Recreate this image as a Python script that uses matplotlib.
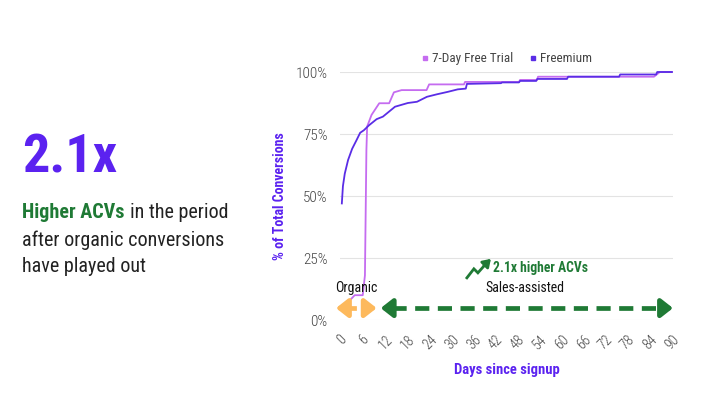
import matplotlib
matplotlib.use("Agg")
import matplotlib.pyplot as plt
from matplotlib import font_manager as fm
from matplotlib.lines import Line2D
import matplotlib.transforms as mtransforms

# ---------------- data ----------------
trial_days = [1.6, 3.5, 5.7, 6.3, 6.7, 6.9, 8.1, 10.2, 12.9, 14.2, 16.3, 23.1, 23.8,
              33.3, 33.6, 48.3, 48.6, 53.2, 53.5, 85.1, 86.7, 90]
trial_pct = [7, 10, 10, 18, 68.5, 78, 82.7, 87.4, 87.4, 91.8, 92.7, 92.7, 95,
             95, 96, 96, 96.8, 96.8, 98.1, 98.1, 100, 100]

freemium_days = [0, 0.3, 0.8, 1.7, 2.8, 4.0, 5.0, 6.0, 7.4, 9.5, 11.2, 14.5, 18, 20.5,
                 23.2, 25.9, 28.9, 31.6, 33.8, 34.1, 43.4, 43.7, 48.3, 48.6, 53.0,
                 53.3, 61.4, 61.7, 75.6, 75.9, 85.7, 86.0, 90]
freemium_pct = [47, 54, 59, 64.5, 69, 72.5, 75.5, 76.5, 78.5, 81, 82, 86, 87.5, 88,
                90, 91, 92, 93, 93.3, 95.2, 95.5, 95.8, 95.8, 96.4, 96.4,
                97.2, 97.2, 98.1, 98.1, 99, 99, 100, 100]

x_ticks = list(range(0, 91, 6))
y_ticks = [0, 25, 50, 75, 100]
y_tick_labels = ["0%", "25%", "50%", "75%", "100%"]

organic_span = [-1.6, 9.5]
sales_span = [10.6, 90.3]
arrow_level = 4.8

# ---------------- fonts ----------------
names = {f.name for f in fm.fontManager.ttflist}
FONT = "DejaVu Sans"
for cand in ["Roboto Condensed", "Open Sans Condensed", "Liberation Sans Narrow"]:
    if cand in names:
        FONT = cand
        break
plt.rcParams["font.family"] = [FONT, "DejaVu Sans"]

PURPLE = "#5b22f0"
TRIAL = "#c56cf0"
FREEM = "#5a2de6"
GREEN = "#1f7a35"
ORANGE = "#fdb95c"
GRAY = "#444444"

fig = plt.figure(figsize=(7.2, 4.0), dpi=100)
ax = fig.add_axes([340 / 720, 1 - 320 / 400, 333 / 720, 248 / 400])

ax.plot(trial_days, trial_pct, color=TRIAL, lw=1.3, label="7-Day Free Trial", clip_on=False)
ax.plot(freemium_days, freemium_pct, color=FREEM, lw=1.3, label="Freemium", clip_on=False)

ax.set_xlim(-0.5, 90.3)
ax.set_ylim(0, 100)
ax.set_yticks(y_ticks)
ax.set_yticklabels(y_tick_labels, fontweight="light")
ax.set_xticks(x_ticks)
ax.set_xticklabels([str(t) for t in x_ticks], rotation=45, ha="center", va="top",
                   fontweight="light")
ax.tick_params(axis="both", length=0, colors=GRAY)
ax.tick_params(axis="x", pad=9, labelsize=10)
ax.tick_params(axis="y", pad=9, labelsize=11)
ax.grid(axis="y", color="#e3e3e3", lw=0.8)
ax.set_axisbelow(True)
for s in ax.spines.values():
    s.set_visible(False)

ax.set_ylabel("% of Total Conversions", color=PURPLE, fontsize=10, fontweight="bold", labelpad=6)
ax.set_xlabel("Days since signup", color=PURPLE, fontsize=10.5, fontweight="bold", labelpad=8)

# legend
handles = [Line2D([], [], color=TRIAL, marker="s", ms=3, lw=0),
           Line2D([], [], color=FREEM, marker="s", ms=3, lw=0)]
leg = ax.legend(handles, ["7-Day Free Trial", "Freemium"], ncol=2, frameon=False,
                loc="lower center", bbox_to_anchor=(0.5, 1.0), fontsize=9.5,
                handletextpad=0.2, columnspacing=1.2, handlelength=0.6, borderaxespad=0.1)
for t in leg.get_texts():
    t.set_color(GRAY)


def double_arrow(span, color, dash, head_len):
    a, b = span
    ax.plot([a + head_len, b - head_len], [arrow_level, arrow_level], color=color, lw=3.4,
            dashes=dash, solid_capstyle="butt", clip_on=False)
    for tip, base in ((a, a + head_len), (b, b - head_len)):
        ax.annotate("", xy=(tip, arrow_level), xytext=(base, arrow_level),
                    arrowprops=dict(arrowstyle="-|>,head_length=0.7,head_width=0.55",
                                    color=color, lw=3.4, shrinkA=0, shrinkB=0),
                    annotation_clip=False)


double_arrow(organic_span, ORANGE, (2.2, 1.2), 2.6)
double_arrow(sales_span, GREEN, (3.0, 1.8), 3.0)

ax.text(4.0, 13.0, "Organic", fontsize=10, color="#111111", ha="center", va="center")
ax.text(50.0, 13.0, "Sales-assisted", fontsize=10, color="#111111", ha="center", va="center")
ax.text(41.3, 21.0, "2.1x higher ACVs", fontsize=9.8, color=GREEN, fontweight="bold",
        ha="left", va="center")

# trending-up icon, drawn in pixel offsets from an anchor in data space
icon_tr = mtransforms.Affine2D() + mtransforms.ScaledTranslation(34.1, 17.0, ax.transData)
ax.add_line(Line2D([0, 7, 11, 19], [0, 9, 5, 14], color=GREEN, lw=2.0, transform=icon_tr,
                   clip_on=False, solid_joinstyle="miter"))
ax.annotate("", xy=(24, 19), xytext=(17, 12), xycoords=icon_tr, textcoords=icon_tr,
            arrowprops=dict(arrowstyle="-|>,head_length=0.45,head_width=0.3", color=GREEN,
                            lw=2.0, shrinkA=0, shrinkB=0),
            annotation_clip=False)

# left panel text
fig.text(22 / 720, 1 - 158 / 400, "2.1x", fontsize=39, fontweight="bold", color=PURPLE,
         ha="left", va="center")
t1 = fig.text(22 / 720, 1 - 212 / 400, "Higher ACVs", fontsize=14.5, fontweight="bold",
              color=GREEN, ha="left", va="center")
fig.canvas.draw()
bb = t1.get_window_extent()
fig.text(bb.x1 / 720 + 0.007, 1 - 212 / 400, "in the period", fontsize=14.5, color="#222222",
         ha="left", va="center")
fig.text(22 / 720, 1 - 240 / 400, "after organic conversions", fontsize=14.5, color="#222222",
         ha="left", va="center")
fig.text(22 / 720, 1 - 267 / 400, "have played out", fontsize=14.5, color="#222222",
         ha="left", va="center")

fig.savefig("out.png", dpi=100)
